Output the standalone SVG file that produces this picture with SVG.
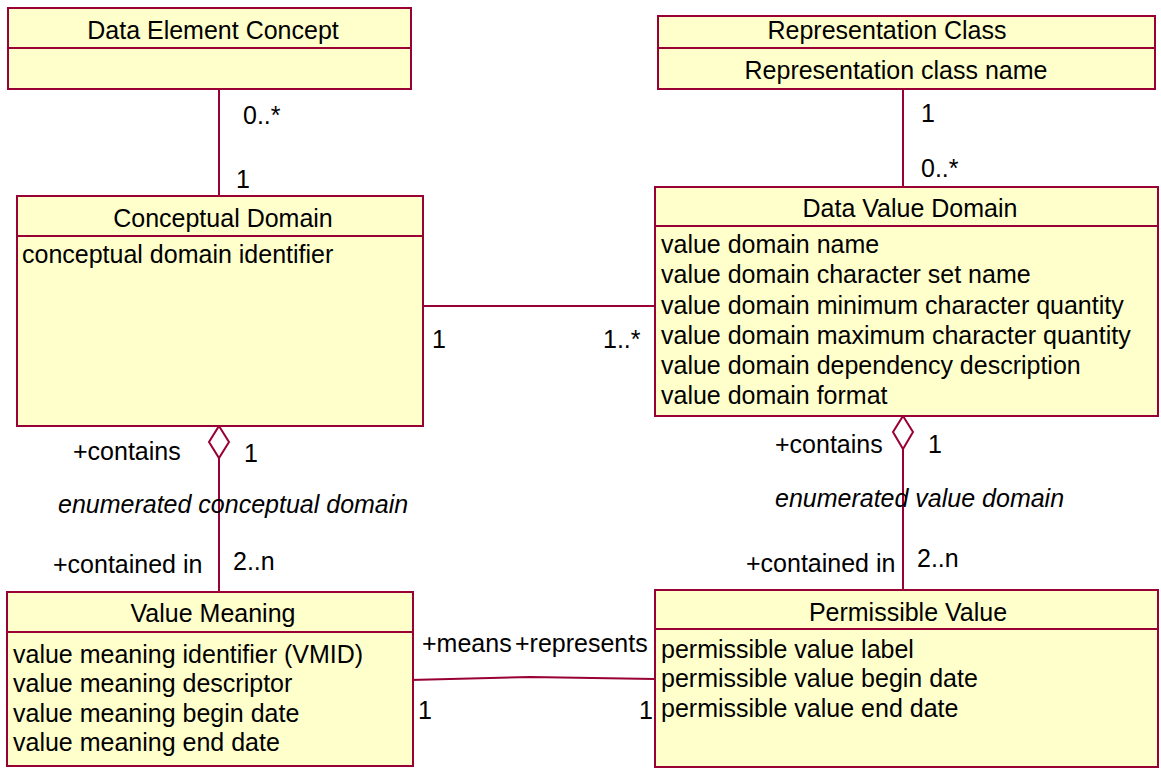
<svg xmlns="http://www.w3.org/2000/svg" width="1161" height="768" viewBox="0 0 1161 768">
  <style>
    .box { fill: #ffffcc; stroke: #990033; stroke-width: 2; }
    .div { stroke: #990033; stroke-width: 2; fill: none; }
    .edge { stroke: #990033; stroke-width: 2; fill: none; }
    .agg { fill: #ffffff; stroke: #990033; stroke-width: 2; }
    text { font-family: "Liberation Sans", Arial, sans-serif; font-size: 25px; fill: #000000; }
    .title { text-anchor: middle; }
    .role { font-style: italic; }
  </style>
  <rect width="1161" height="768" fill="#ffffff"/>

  <!-- associations -->
  <g id="connectors">
    <line class="edge" x1="219" y1="89" x2="219" y2="196"/>
    <line class="edge" x1="903" y1="89" x2="903" y2="187"/>
    <line class="edge" x1="423" y1="306" x2="655" y2="306"/>
    <line class="edge" x1="219" y1="458" x2="219" y2="592"/>
    <polygon class="agg" points="219,426 229,442 219,458 209,442"/>
    <line class="edge" x1="903" y1="449" x2="903" y2="590"/>
    <polygon class="agg" points="903,416 913,432 903,449 893,432"/>
    <polyline class="edge" points="410,680 530,677 655,679"/>

    <text x="243" y="124">0..*</text>
    <text x="236" y="188">1</text>
    <text x="921" y="122">1</text>
    <text x="921" y="177">0..*</text>
    <text x="432" y="348">1</text>
    <text x="603" y="348">1..*</text>
    <text x="73" y="460">+contains</text>
    <text x="244" y="462">1</text>
    <text class="role" x="58" y="513">enumerated conceptual domain</text>
    <text x="53" y="573">+contained in</text>
    <text x="233" y="570">2..n</text>
    <text x="775" y="453">+contains</text>
    <text x="928" y="453">1</text>
    <text class="role" x="775" y="507">enumerated value domain</text>
    <text x="746" y="572">+contained in</text>
    <text x="917" y="567">2..n</text>
    <text x="422" y="652">+means</text>
    <text x="515" y="652">+represents</text>
    <text x="418" y="719">1</text>
    <text x="639" y="719">1</text>
  </g>

  <g id="data-element-concept">
    <rect class="box" x="8" y="8" width="403" height="81"/>
    <line class="div" x1="8" y1="48" x2="411" y2="48"/>
    <text class="title" x="213" y="39">Data Element Concept</text>
  </g>

  <g id="representation-class">
    <rect class="box" x="658" y="16" width="497" height="73"/>
    <line class="div" x1="658" y1="48" x2="1155" y2="48"/>
    <text class="title" x="887" y="39">Representation Class</text>
    <text class="title" x="896" y="79">Representation class name</text>
  </g>

  <g id="conceptual-domain">
    <rect class="box" x="17" y="196" width="406" height="230"/>
    <line class="div" x1="17" y1="236" x2="423" y2="236"/>
    <text class="title" x="223" y="227">Conceptual Domain</text>
    <text x="22" y="263">conceptual domain identifier</text>
  </g>

  <g id="data-value-domain">
    <rect class="box" x="655" y="187" width="503" height="229"/>
    <line class="div" x1="655" y1="226" x2="1158" y2="226"/>
    <text class="title" x="910" y="217">Data Value Domain</text>
    <text x="661" y="253">value domain name</text>
    <text x="661" y="283">value domain character set name</text>
    <text x="661" y="314">value domain minimum character quantity</text>
    <text x="661" y="344">value domain maximum character quantity</text>
    <text x="661" y="374">value domain dependency description</text>
    <text x="661" y="404">value domain format</text>
  </g>

  <g id="value-meaning">
    <rect class="box" x="7" y="592" width="406" height="174"/>
    <line class="div" x1="7" y1="632" x2="413" y2="632"/>
    <text class="title" x="213" y="622">Value Meaning</text>
    <text x="13" y="663">value meaning identifier (VMID)</text>
    <text x="13" y="692">value meaning descriptor</text>
    <text x="13" y="722">value meaning begin date</text>
    <text x="13" y="751">value meaning end date</text>
  </g>

  <g id="permissible-value">
    <rect class="box" x="655" y="590" width="503" height="177"/>
    <line class="div" x1="655" y1="629" x2="1158" y2="629"/>
    <text class="title" x="908" y="621">Permissible Value</text>
    <text x="661" y="658">permissible value label</text>
    <text x="661" y="687">permissible value begin date</text>
    <text x="661" y="717">permissible value end date</text>
  </g>
</svg>
